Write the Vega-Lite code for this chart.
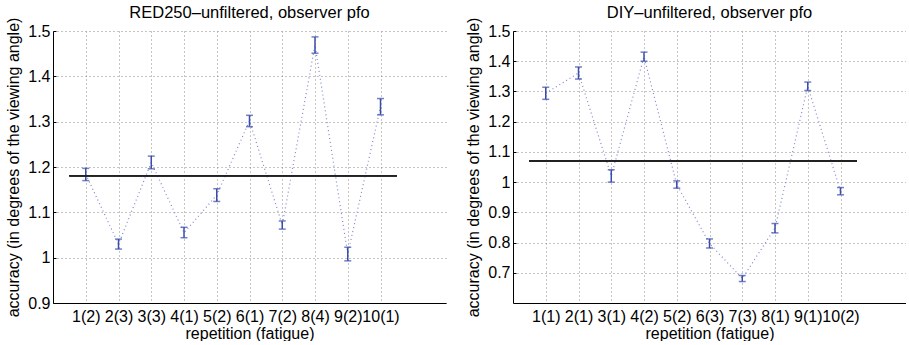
{
  "$schema": "https://vega.github.io/schema/vega-lite/v6.json",
  "padding": {"left": 5, "top": 5, "right": 0, "bottom": 0},
  "background": "white",
  "config": {
    "font": "Liberation Sans",
    "view": {"stroke": null},
    "title": {"fontSize": 16.5, "fontWeight": "normal", "color": "black", "offset": -4.5, "frame": "group"},
    "axis": {
      "labelFont": "Liberation Sans", "titleFont": "Liberation Sans",
      "labelFontSize": 16, "titleFontSize": 16, "titleFontWeight": "normal",
      "labelColor": "black", "titleColor": "black", "labelOverlap": false,
      "domainColor": "black", "domainWidth": 1,
      "grid": true, "gridColor": "#8a8a8a", "gridDash": [1, 3], "gridWidth": 1, "gridOpacity": 1
    }
  },
  "datasets": {
    "red": [
      {"rep": 1, "acc": 1.184, "lo": 1.170, "hi": 1.197},
      {"rep": 2, "acc": 1.030, "lo": 1.019, "hi": 1.041},
      {"rep": 3, "acc": 1.210, "lo": 1.196, "hi": 1.224},
      {"rep": 4, "acc": 1.055, "lo": 1.044, "hi": 1.067},
      {"rep": 5, "acc": 1.138, "lo": 1.124, "hi": 1.152},
      {"rep": 6, "acc": 1.302, "lo": 1.289, "hi": 1.314},
      {"rep": 7, "acc": 1.072, "lo": 1.063, "hi": 1.081},
      {"rep": 8, "acc": 1.469, "lo": 1.451, "hi": 1.487},
      {"rep": 9, "acc": 1.008, "lo": 0.993, "hi": 1.023},
      {"rep": 10, "acc": 1.333, "lo": 1.315, "hi": 1.351}
    ],
    "diy": [
      {"rep": 1, "acc": 1.294, "lo": 1.274, "hi": 1.314},
      {"rep": 2, "acc": 1.361, "lo": 1.341, "hi": 1.381},
      {"rep": 3, "acc": 1.020, "lo": 1.000, "hi": 1.041},
      {"rep": 4, "acc": 1.415, "lo": 1.400, "hi": 1.430},
      {"rep": 5, "acc": 0.992, "lo": 0.980, "hi": 1.004},
      {"rep": 6, "acc": 0.797, "lo": 0.782, "hi": 0.812},
      {"rep": 7, "acc": 0.681, "lo": 0.671, "hi": 0.691},
      {"rep": 8, "acc": 0.848, "lo": 0.832, "hi": 0.863},
      {"rep": 9, "acc": 1.317, "lo": 1.303, "hi": 1.331},
      {"rep": 10, "acc": 0.970, "lo": 0.958, "hi": 0.982}
    ]
  },
  "spacing": 19,
  "hconcat": [
    {
      "width": 393, "height": 272,
      "title": "RED250\u2013unfiltered, observer pfo",
      "data": {"name": "red"},
      "encoding": {
        "x": {"field": "rep", "type": "quantitative", "scale": {"domain": [0, 12], "nice": false},
          "axis": {"values": [1,2,3,4,5,6,7,8,9,10], "title": "repetition (fatigue)", "ticks": false,
            "labelPadding": 5, "titlePadding": 1, "labelOverlap": false,
            "labelExpr": "['1(2)','2(3)','3(3)','4(1)','5(2)','6(1)','7(2)','8(4)','9(2)','10(1)'][datum.value - 1]"}},
        "y": {"field": "acc", "type": "quantitative",
           "scale": {"domain": [0.9, 1.5], "nice": false, "zero": false},
           "axis": {"values": [0.9,1.0,1.1,1.2,1.3,1.4,1.5], "format": "~g", "labelOverlap": false,
             "title": "accuracy (in degrees of the viewing angle)",
             "tickSize": -3, "tickColor": "black", "labelPadding": 6, "titlePadding": 6}}
      },
      "layer": [
        {"mark": {"type": "line", "color": "#7f88cf", "strokeDash": [1, 3], "strokeWidth": 1.2}},
        {"mark": {"type": "rule", "color": "#3b4cad", "strokeWidth": 1.5},
         "encoding": {"y": {"field": "lo", "type": "quantitative"}, "y2": {"field": "hi"}}},
        {"mark": {"type": "tick", "orient": "horizontal", "color": "#3b4cad", "size": 7, "thickness": 1.5},
         "encoding": {"y": {"field": "lo", "type": "quantitative"}}},
        {"mark": {"type": "tick", "orient": "horizontal", "color": "#3b4cad", "size": 7, "thickness": 1.5},
         "encoding": {"y": {"field": "hi", "type": "quantitative"}}},
        {"mark": {"type": "rule", "color": "#222222", "strokeWidth": 1.2},
         "encoding": {"x": {"datum": 0.5, "type": "quantitative"}, "x2": {"datum": 10.5}, "y": {"datum": 1.181, "type": "quantitative"}}}
      ]
    },
    {
      "width": 393, "height": 272,
      "title": "DIY\u2013unfiltered, observer pfo",
      "data": {"name": "diy"},
      "encoding": {
        "x": {"field": "rep", "type": "quantitative", "scale": {"domain": [0, 12], "nice": false},
          "axis": {"values": [1,2,3,4,5,6,7,8,9,10], "title": "repetition (fatigue)", "ticks": false,
            "labelPadding": 5, "titlePadding": 1, "labelOverlap": false,
            "labelExpr": "['1(1)','2(1)','3(1)','4(2)','5(2)','6(3)','7(3)','8(1)','9(1)','10(2)'][datum.value - 1]"}},
        "y": {"field": "acc", "type": "quantitative",
           "scale": {"domain": [0.6, 1.5], "nice": false, "zero": false},
           "axis": {"values": [0.7,0.8,0.9,1.0,1.1,1.2,1.3,1.4,1.5], "format": "~g", "labelOverlap": false,
             "title": "accuracy (in degrees of the viewing angle)",
             "tickSize": -3, "tickColor": "black", "labelPadding": 6, "titlePadding": 6}}
      },
      "layer": [
        {"mark": {"type": "line", "color": "#7f88cf", "strokeDash": [1, 3], "strokeWidth": 1.2}},
        {"mark": {"type": "rule", "color": "#3b4cad", "strokeWidth": 1.5},
         "encoding": {"y": {"field": "lo", "type": "quantitative"}, "y2": {"field": "hi"}}},
        {"mark": {"type": "tick", "orient": "horizontal", "color": "#3b4cad", "size": 7, "thickness": 1.5},
         "encoding": {"y": {"field": "lo", "type": "quantitative"}}},
        {"mark": {"type": "tick", "orient": "horizontal", "color": "#3b4cad", "size": 7, "thickness": 1.5},
         "encoding": {"y": {"field": "hi", "type": "quantitative"}}},
        {"mark": {"type": "rule", "color": "#222222", "strokeWidth": 1.2},
         "encoding": {"x": {"datum": 0.5, "type": "quantitative"}, "x2": {"datum": 10.5}, "y": {"datum": 1.070, "type": "quantitative"}}}
      ]
    }
  ]
}
